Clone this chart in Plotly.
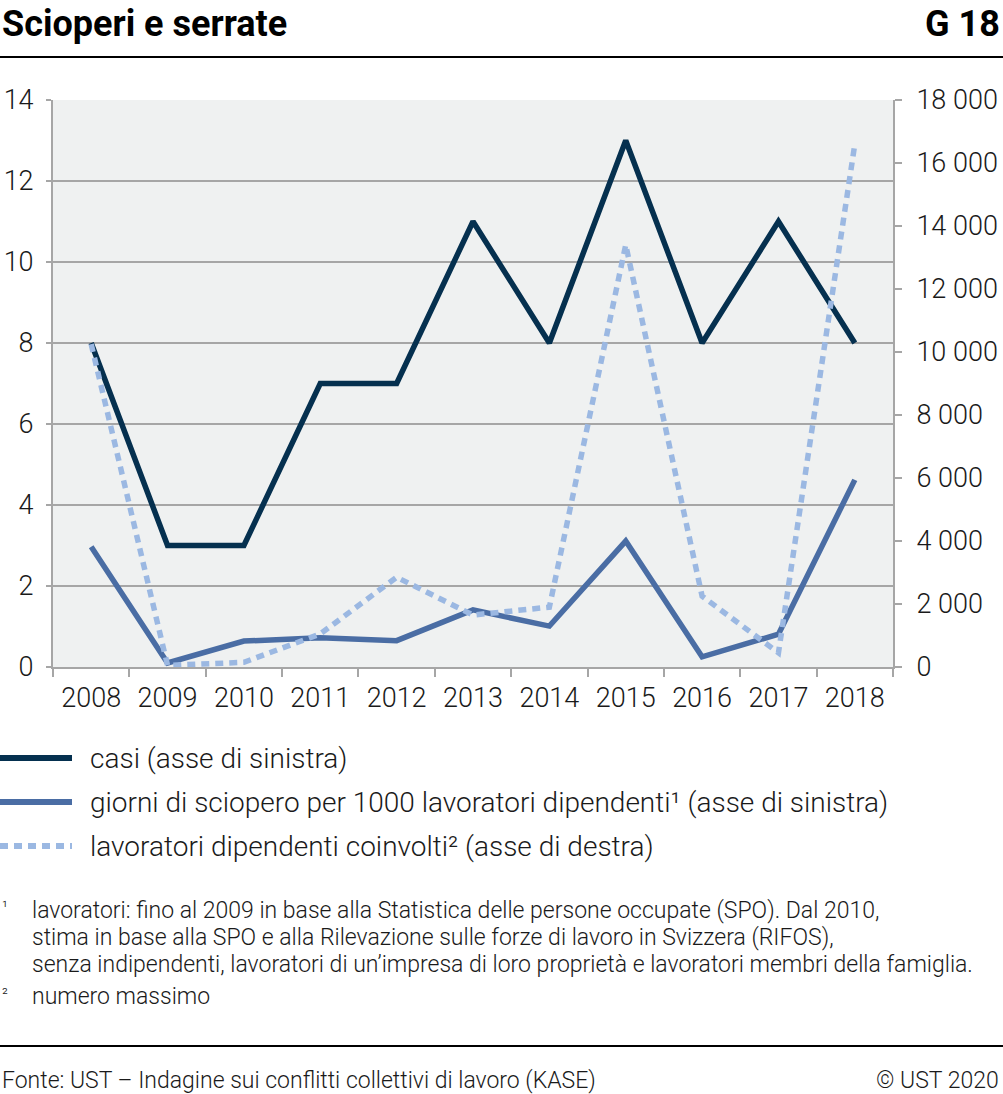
import plotly.graph_objects as go

years = ["2008", "2009", "2010", "2011", "2012", "2013", "2014", "2015", "2016", "2017", "2018"]
casi = [8, 3, 3, 7, 7, 11, 8, 13, 8, 11, 8]
giorni = [2.97, 0.1, 0.64, 0.72, 0.65, 1.41, 1.01, 3.11, 0.25, 0.81, 4.62]
lavoratori = [10250, 50, 150, 1050, 2850, 1650, 1900, 13400, 2250, 450, 16600]

names = [
    "casi (asse di sinistra)",
    "giorni di sciopero per 1000 lavoratori dipendenti¹ (asse di sinistra)",
    "lavoratori dipendenti coinvolti² (asse di destra)",
]
colors = ["#05304f", "#4a6da4", "#9bb8e2"]
dashes = ["solid", "solid", "8px,6px"]

left_ticks = [0, 2, 4, 6, 8, 10, 12, 14]
right_ticks = [0, 2000, 4000, 6000, 8000, 10000, 12000, 14000, 16000, 18000]

footnotes = [
    ("¹", "lavoratori: fino al 2009 in base alla Statistica delle persone occupate (SPO). Dal 2010,"),
    ("", "stima in base alla SPO e alla Rilevazione sulle forze di lavoro in Svizzera (RIFOS),"),
    ("", "senza indipendenti, lavoratori di un’impresa di loro proprietà e lavoratori membri della famiglia."),
    ("²", "numero massimo"),
]

FONT = "Roboto, 'Noto Sans', sans-serif"
TXT = "#1a1a1a"
W, H = 1003, 1094
L, R, T, B = 53, 110, 100, 427

fig = go.Figure()
fig.add_trace(go.Scatter(x=years, y=casi, mode="lines", line=dict(color=colors[0], width=5.5), yaxis="y"))
fig.add_trace(go.Scatter(x=years, y=giorni, mode="lines", line=dict(color=colors[1], width=5.5), yaxis="y"))
fig.add_trace(go.Scatter(x=years, y=lavoratori, mode="lines",
                         line=dict(color=colors[2], width=5.5, dash=dashes[2]), yaxis="y2"))

axis_gray = "#a6a6a6"
tickfont = dict(size=27, family=FONT, color=TXT, weight=300)

fig.update_layout(
    width=W, height=H, autosize=False,
    margin=dict(l=L, r=R, t=T, b=B, pad=0, autoexpand=False),
    paper_bgcolor="white",
    plot_bgcolor="#eff1f1",
    showlegend=False,
    separators=", ",
    font=dict(family=FONT, color=TXT),
    xaxis=dict(
        type="category", range=[-0.5, 10.5], tickson="boundaries", automargin=False,
        ticks="outside", ticklen=8, tickwidth=2, tickcolor=axis_gray,
        showline=True, linecolor=axis_gray, linewidth=2,
        showgrid=False, tickfont=tickfont, ticklabelstandoff=6,
    ),
    yaxis=dict(
        range=[0, 14], tickvals=left_ticks, ticks="outside", ticklen=5, tickwidth=2, automargin=False,
        tickcolor=axis_gray, showline=True, linecolor=axis_gray, linewidth=2,
        showgrid=True, gridcolor=axis_gray, gridwidth=2, zeroline=False,
        tickfont=tickfont, ticklabelstandoff=7,
    ),
    yaxis2=dict(
        range=[0, 18000], tickvals=right_ticks, tickformat=",", overlaying="y", side="right",
        ticks="outside", ticklen=7, tickwidth=2, tickcolor=axis_gray, automargin=False,
        showline=True, linecolor=axis_gray, linewidth=2, showgrid=False, zeroline=False,
        tickfont=tickfont, ticklabelstandoff=9,
    ),
)

def to_paper_x(px):
    return (px - L) / (W - L - R)

def to_paper_y(px):
    return (H - B - px) / (H - T - B)

shapes = [
    dict(type="line", xref="paper", yref="paper", x0=to_paper_x(0), x1=to_paper_x(W),
         y0=to_paper_y(57), y1=to_paper_y(57), line=dict(color="black", width=2)),
    dict(type="line", xref="paper", yref="paper", x0=to_paper_x(0), x1=to_paper_x(W),
         y0=to_paper_y(1046), y1=to_paper_y(1046), line=dict(color="black", width=2)),
]
titlefont = dict(size=36, family=FONT, color="black")
annotations = [
    dict(text="<b>Scioperi e serrate</b>", x=to_paper_x(0), y=to_paper_y(1), xref="paper", yref="paper",
         xanchor="left", yanchor="top", showarrow=False, font=titlefont),
    dict(text="<b>G 18</b>", x=to_paper_x(1002), y=to_paper_y(1), xref="paper", yref="paper",
         xanchor="right", yanchor="top", showarrow=False, font=titlefont),
]

legend_y = [758, 802, 846]
for i, (nm, col, ds) in enumerate(zip(names, colors, dashes)):
    shapes.append(dict(type="line", xref="paper", yref="paper", x0=to_paper_x(0), x1=to_paper_x(72),
                       y0=to_paper_y(legend_y[i]), y1=to_paper_y(legend_y[i]),
                       line=dict(color=col, width=6, dash=ds)))
    annotations.append(dict(text=nm, x=to_paper_x(88), y=to_paper_y(legend_y[i]), xref="paper", yref="paper",
                            xanchor="left", yanchor="middle", showarrow=False,
                            font=dict(size=28, family=FONT, color=TXT, weight=300)))

foot_y = [910, 937, 965, 997]
footfont = dict(size=23, family=FONT, color=TXT, weight=300)
supfont = dict(size=16, family=FONT, color=TXT, weight=300)
for i, (num, txt) in enumerate(footnotes):
    if num:
        annotations.append(dict(text=num, x=to_paper_x(0), y=to_paper_y(foot_y[i] - 4),
                                xref="paper", yref="paper", xanchor="left", yanchor="middle", showarrow=False,
                                font=supfont))
    annotations.append(dict(text=txt, x=to_paper_x(30), y=to_paper_y(foot_y[i]), xref="paper", yref="paper",
                            xanchor="left", yanchor="middle", showarrow=False, font=footfont))

annotations.append(dict(text="Fonte: UST – Indagine sui conflitti collettivi di lavoro (KASE)", x=to_paper_x(0),
                        y=to_paper_y(1080), xref="paper", yref="paper", xanchor="left", yanchor="middle",
                        showarrow=False, font=footfont))
annotations.append(dict(text="© UST 2020", x=to_paper_x(1001), y=to_paper_y(1080), xref="paper", yref="paper",
                        xanchor="right", yanchor="middle", showarrow=False, font=footfont))

fig.update_layout(shapes=shapes, annotations=annotations)
fig.write_html(
    "out.html",
    config={"displayModeBar": False, "responsive": False},
    post_script="document.body.style.margin='0';document.body.style.overflow='hidden';"
                "document.documentElement.style.overflow='hidden';",
)
